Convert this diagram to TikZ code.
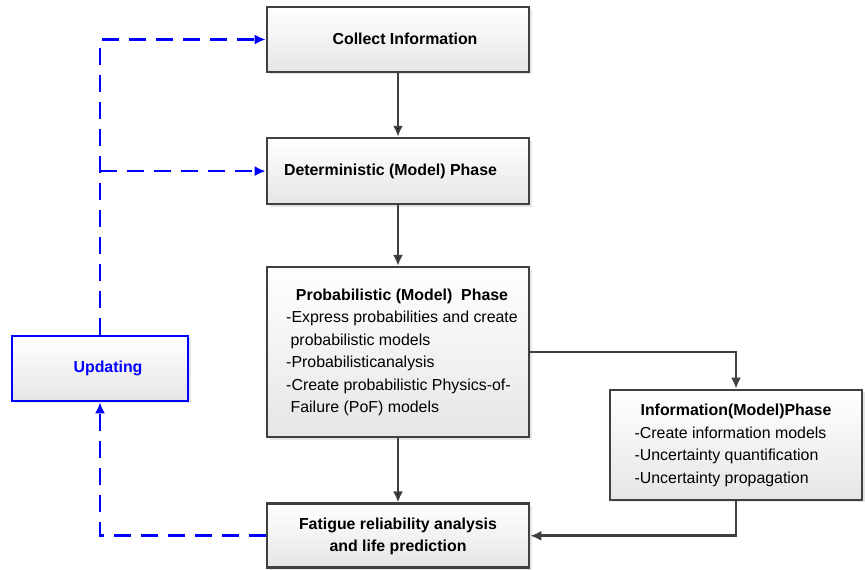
\documentclass[tikz,border=0pt]{standalone}
\usepackage{fontspec}
\setmainfont{Liberation Sans}
\usetikzlibrary{positioning,arrows.meta,shadows}
\definecolor{boxgray}{HTML}{404040}

\begin{document}
\begin{tikzpicture}[x=1pt,y=1pt,>={Latex[length=11pt,width=10pt]},
  line width=2.6pt,node distance=64pt,
  phase/.style={rectangle,draw=boxgray,top color=white,bottom color=black!10,
    drop shadow={shadow xshift=2.5pt,shadow yshift=-2.5pt,opacity=0.2},
    minimum width=262pt,inner sep=0pt,font=\fontsize{15.9}{22.5}\selectfont},
  flow/.style={->,draw=boxgray},
  feedback/.style={->,draw=blue,line width=2.8pt,dash pattern=on 17pt off 10pt}]
  \useasboundingbox (0,0) rectangle (865,570);

  % main chain of phases
  \node[phase,minimum height=65pt] (collect) at (398,530.5)
    {\raisebox{2pt}{\hspace*{14pt}\textbf{Collect Information}}};
  \node[phase,minimum height=66pt] (determ) [below=63.5pt of collect]
    {\raisebox{2pt}{\hspace*{-15pt}\textbf{Deterministic (Model) Phase}}};
  \node[phase,minimum height=170pt] (prob) [below=60.5pt of determ] {\raisebox{3pt}{\hspace*{8pt}%
    \begin{tabular}{@{}l@{}}
      \multicolumn{1}{c}{\textbf{Probabilistic (Model)\ \ Phase}}\\
      -Express probabilities and create\\
      \ probabilistic models\\
      -Probabilisticanalysis\\
      -Create probabilistic Physics-of-\\
      \ Failure (PoF) models
    \end{tabular}}};
  \node[phase,minimum height=64pt] (fatigue) [below=64pt of prob] {\raisebox{3pt}{%
    \begin{tabular}{@{}c@{}}
      \textbf{Fatigue reliability analysis}\\
      \textbf{and life prediction}
    \end{tabular}}};

  % side boxes
  \node[phase,minimum width=252pt,minimum height=110pt] (info) at (736,125) {\raisebox{2pt}{%
    \begin{tabular}{@{}l@{}}
      \multicolumn{1}{c}{\textbf{Information(Model)Phase}}\\
      -Create information models\\
      -Uncertainty quantification\\
      -Uncertainty propagation
    \end{tabular}}};
  \node[phase,draw=blue,text=blue,minimum width=176pt,minimum height=65pt] (update) at (100,201.5)
    {\raisebox{3pt}{\hspace*{16pt}\textbf{Updating}}};
  \coordinate (branch) at (update.north |- determ.west);

  \path[flow]
    (collect) edge (determ)
    (determ) edge (prob)
    (prob) edge (fatigue);
  \draw[flow] (prob.east) -| (info.north);
  \draw[flow] (info.south) |- (fatigue.east);

  % updating loop
  \draw[feedback] (update.north) |- (collect.west);
  \draw[feedback] (branch) -- (determ.west);
  \draw[feedback] (fatigue.west) -| (update.south);
\end{tikzpicture}
\end{document}
